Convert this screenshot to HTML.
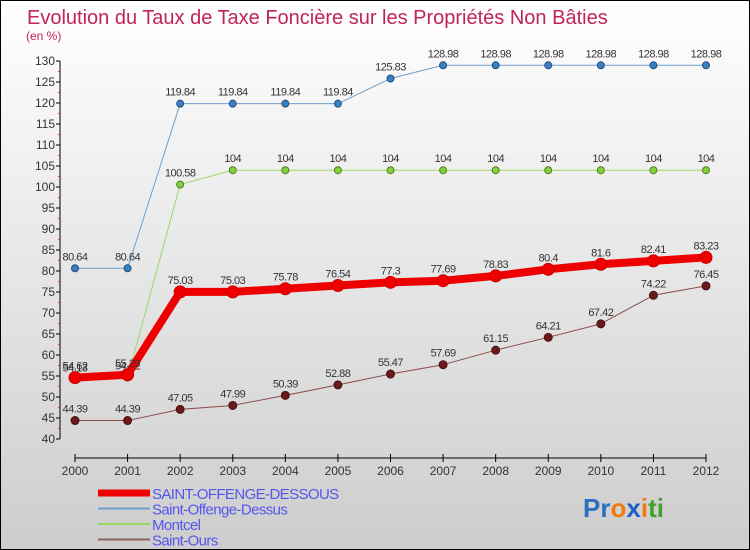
<!DOCTYPE html>
<html><head><meta charset="utf-8"><style>
body{margin:0}
#c{width:750px;height:550px;position:relative;overflow:hidden;font-family:"Liberation Sans",sans-serif}
</style></head><body>
<div id="c">
<svg id="s" width="750" height="550" xmlns="http://www.w3.org/2000/svg">
<defs><linearGradient id="bg" x1="0" y1="0" x2="0" y2="1"><stop offset="0" stop-color="#ffffff"/><stop offset="1" stop-color="#cdcdcd"/></linearGradient></defs>
<rect x="0.5" y="0.5" width="749" height="549" fill="url(#bg)" stroke="#000"/>
<text x="27" y="24" font-size="20" fill="#c0245c">Evolution du Taux de Taxe Foncière sur les Propriétés Non Bâties</text>
<text x="26" y="40" font-size="12" fill="#c0245c">(en %)</text>
<g id="axes"></g><g id="series"></g><g id="legend"></g>
<text x="583" y="517" font-size="26" font-weight="bold"><tspan fill="#2a6fc0">Pr</tspan><tspan fill="#f07a10">o</tspan><tspan fill="#1a5fc8">x</tspan><tspan fill="#f07a10">i</tspan><tspan fill="#40a030">ti</tspan></text>
</svg>
</div>
<script>
const years=[2000,2001,2002,2003,2004,2005,2006,2007,2008,2009,2010,2011,2012];
const yTicks=[40,45,50,55,60,65,70,75,80,85,90,95,100,105,110,115,120,125,130];
const saintOffengeDessous=[54.62,55.29,75.03,75.03,75.78,76.54,77.3,77.69,78.83,80.4,81.6,82.41,83.23];
const saintOffengeDessus=[80.64,80.64,119.84,119.84,119.84,119.84,125.83,128.98,128.98,128.98,128.98,128.98,128.98];
const montcel=[54.13,54.62,100.58,104,104,104,104,104,104,104,104,104,104];
const saintOurs=[44.39,44.39,47.05,47.99,50.39,52.88,55.47,57.69,61.15,64.21,67.42,74.22,76.45];
const NS="http://www.w3.org/2000/svg";
const X=i=>75+i*(706-75)/(years.length-1);
const Y=v=>439-(v-40)*(378/90);
function mk(t,a,p){const e=document.createElementNS(NS,t);for(const k in a)e.setAttribute(k,a[k]);p.appendChild(e);return e;}
const ax=document.getElementById('axes');
let e=mk('line',{x1:60,y1:61,x2:60,y2:439,stroke:'#000'},ax);

e=mk('line',{x1:75,y1:458,x2:706,y2:458,stroke:'#000'},ax);

yTicks.forEach((v,i)=>{mk('line',{x1:56,y1:Y(v),x2:60,y2:Y(v),stroke:'#000'},ax);
 if(i<yTicks.length-1)mk('line',{x1:58,y1:Y(v+2.5),x2:60,y2:Y(v+2.5),stroke:'#e03030'},ax);
 const t=mk('text',{x:55,y:Y(v)+4,'font-size':12,'text-anchor':'end',fill:'#333'},ax);t.textContent=v;
 });
years.forEach((y,i)=>{mk('line',{x1:X(i),y1:454,x2:X(i),y2:462,stroke:'#000'},ax);
 const t=mk('text',{x:X(i),y:475,'font-size':12,'text-anchor':'middle',fill:'#333'},ax);t.textContent=y;
 });
const sg=document.getElementById('series');
function series(d,name,col,w,mcol,r,lcol){
 const g=mk('g',{},sg);
 mk('polyline',{points:d.map((v,i)=>X(i)+','+Y(v)).join(' '),fill:'none',stroke:col,'stroke-width':w,'stroke-linejoin':'round'},g);
 d.forEach((v,i)=>{const c=mk('circle',{cx:X(i),cy:Y(v),r:r,fill:mcol,stroke:lcol,'stroke-width':1},g);
  
  const t=mk('text',{x:X(i),y:Y(v)-8,'font-size':11,'text-anchor':'middle',fill:'#333','letter-spacing':'-0.5'},g);t.textContent=v;});
}
series(saintOurs,'series-saint-ours','#8b4a4a',1,'#6a1a1a',4,'#4a1010');
series(saintOffengeDessus,'series-saint-offenge-dessus','#6fa0cc',1,'#3a80c0',3.5,'#205080');
series(montcel,'series-montcel','#9ad860',1,'#80d040',3.5,'#508020');
series(saintOffengeDessous,'series-saint-offenge-dessous','#ee0000',8,'#ee0000',6,'#cc0000');
const lg=document.getElementById('legend');
const L=[['SAINT-OFFENGE-DESSOUS','#ee0000',7],['Saint-Offenge-Dessus','#6fa0cc',2],['Montcel','#9ad860',2],['Saint-Ours','#8b6060',2]];
L.forEach((l,i)=>{const y=493+i*15.5;const g=mk('g',{},lg);
 
 mk('line',{x1:98,y1:y,x2:150,y2:y,stroke:l[1],'stroke-width':l[2]},g);
 const t=mk('text',{x:152,y:y+6,'font-size':15,fill:'#5555ee','letter-spacing':'-0.6'},g);t.textContent=l[0];});
</script>
</body></html>
